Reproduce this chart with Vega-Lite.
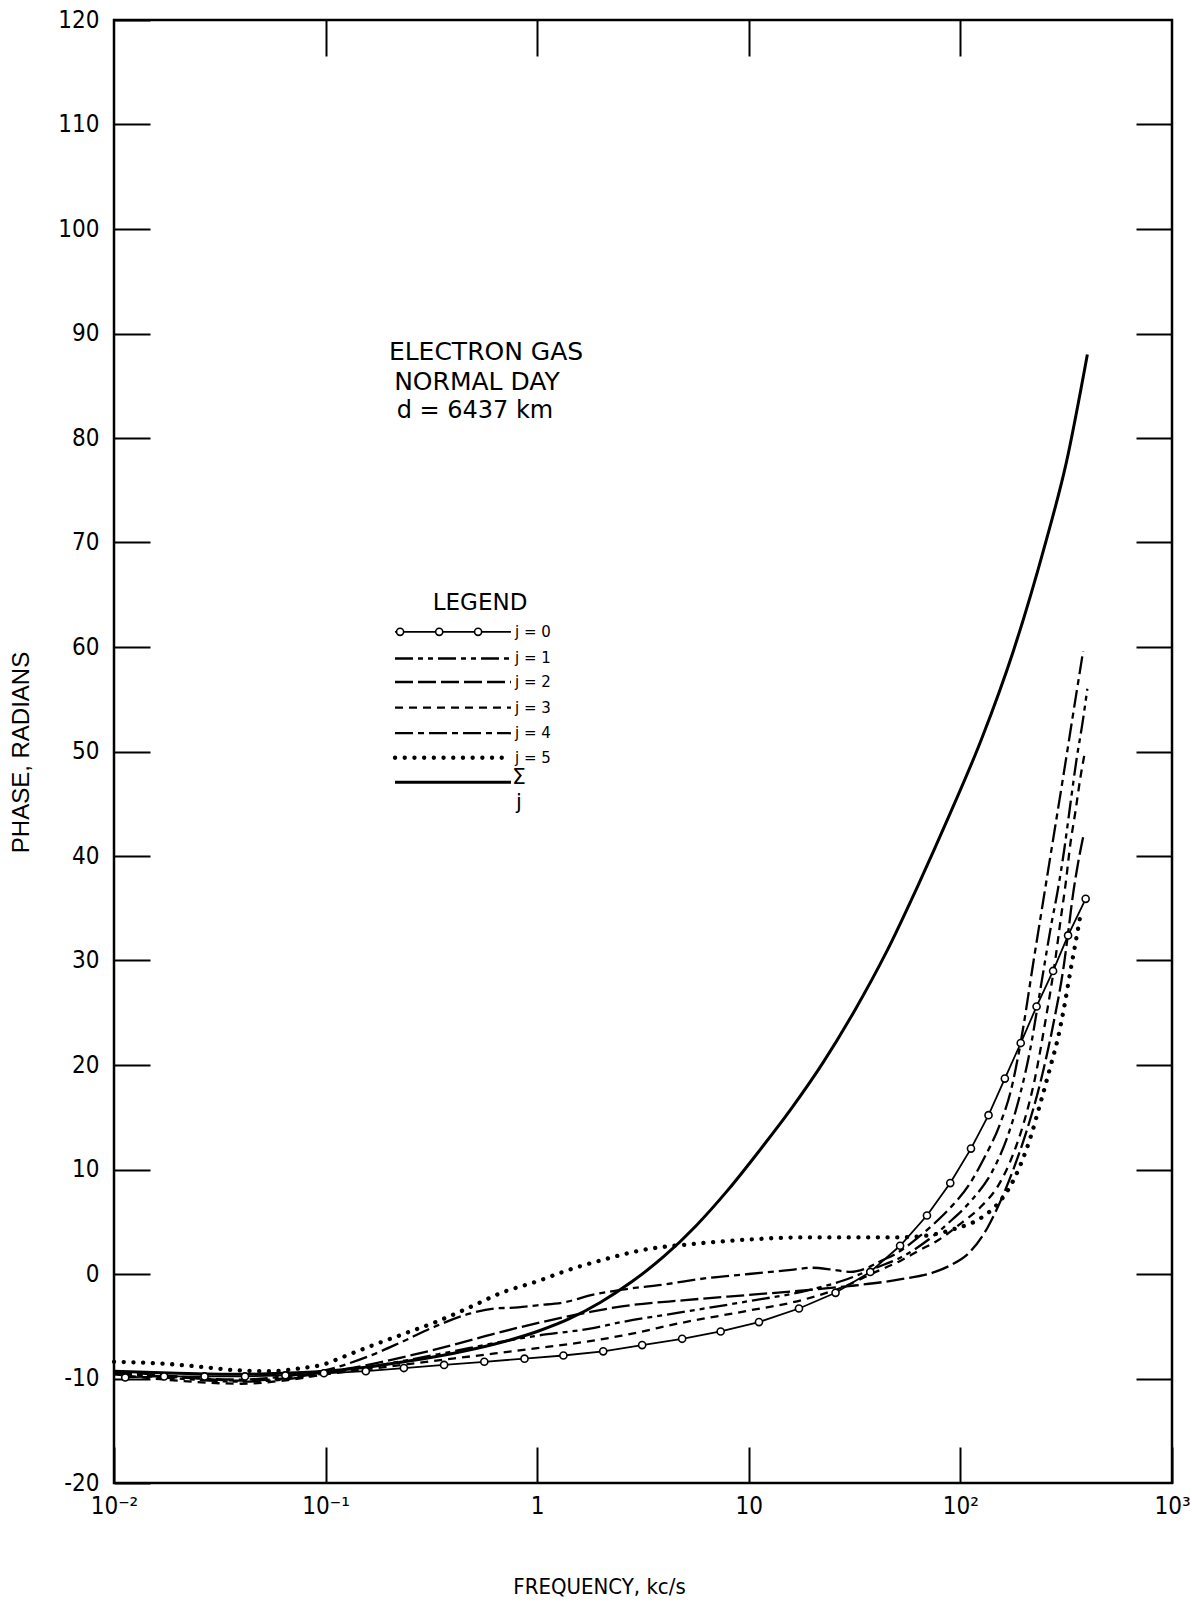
{
  "$schema": "https://vega.github.io/schema/vega-lite/v6.json",
  "width": 1058,
  "height": 1463,
  "autosize": {"type": "none"},
  "padding": {"left": 114, "top": 20, "right": 20, "bottom": 123},
  "background": "white",
  "config": {
    "view": {"stroke": "black", "strokeWidth": 2.5},
    "axis": {"domain": false, "grid": false, "tickColor": "black", "tickWidth": 2, "labelColor": "black", "titleColor": "black", "labelFlush": false, "labelOverlap": false, "titleFontWeight": "normal"}
  },
  "datasets": {
    "curves": [
      {"line": "c0", "series": "j=0", "f": 0.0113, "v": -9.9},
      {"line": "c0", "series": "j=0", "f": 0.01726, "v": -9.8},
      {"line": "c0", "series": "j=0", "f": 0.02679, "v": -9.8},
      {"line": "c0", "series": "j=0", "f": 0.04159, "v": -9.8},
      {"line": "c0", "series": "j=0", "f": 0.06457, "v": -9.7},
      {"line": "c0", "series": "j=0", "f": 0.09817, "v": -9.5},
      {"line": "c0", "series": "j=0", "f": 0.1549, "v": -9.3},
      {"line": "c0", "series": "j=0", "f": 0.2344, "v": -9.0},
      {"line": "c0", "series": "j=0", "f": 0.3631, "v": -8.7},
      {"line": "c0", "series": "j=0", "f": 0.5623, "v": -8.4},
      {"line": "c0", "series": "j=0", "f": 0.871, "v": -8.1},
      {"line": "c0", "series": "j=0", "f": 1.33, "v": -7.8},
      {"line": "c0", "series": "j=0", "f": 2.051, "v": -7.4},
      {"line": "c0", "series": "j=0", "f": 3.133, "v": -6.8},
      {"line": "c0", "series": "j=0", "f": 4.842, "v": -6.2},
      {"line": "c0", "series": "j=0", "f": 7.362, "v": -5.5},
      {"line": "c0", "series": "j=0", "f": 11.17, "v": -4.6},
      {"line": "c0", "series": "j=0", "f": 17.26, "v": -3.3},
      {"line": "c0", "series": "j=0", "f": 25.7, "v": -1.8},
      {"line": "c0", "series": "j=0", "f": 37.5, "v": 0.2},
      {"line": "c0", "series": "j=0", "f": 51.88, "v": 2.7},
      {"line": "c0", "series": "j=0", "f": 69.5, "v": 5.6},
      {"line": "c0", "series": "j=0", "f": 89.54, "v": 8.7},
      {"line": "c0", "series": "j=0", "f": 112.2, "v": 12.0},
      {"line": "c0", "series": "j=0", "f": 135.8, "v": 15.2},
      {"line": "c0", "series": "j=0", "f": 162.2, "v": 18.7},
      {"line": "c0", "series": "j=0", "f": 192.8, "v": 22.1},
      {"line": "c0", "series": "j=0", "f": 229.1, "v": 25.6},
      {"line": "c0", "series": "j=0", "f": 274.2, "v": 29.0},
      {"line": "c0", "series": "j=0", "f": 322.8, "v": 32.4},
      {"line": "c0", "series": "j=0", "f": 390.8, "v": 35.9},

      {"line": "c1", "series": "j=1", "f": 0.01, "v": -9.5},
      {"line": "c1", "series": "j=1", "f": 0.01995, "v": -10.0},
      {"line": "c1", "series": "j=1", "f": 0.03981, "v": -10.3},
      {"line": "c1", "series": "j=1", "f": 0.0631, "v": -10.1},
      {"line": "c1", "series": "j=1", "f": 0.1, "v": -9.5},
      {"line": "c1", "series": "j=1", "f": 0.1585, "v": -8.9},
      {"line": "c1", "series": "j=1", "f": 0.2512, "v": -8.2},
      {"line": "c1", "series": "j=1", "f": 0.3981, "v": -7.4},
      {"line": "c1", "series": "j=1", "f": 0.631, "v": -6.6},
      {"line": "c1", "series": "j=1", "f": 1, "v": -5.9},
      {"line": "c1", "series": "j=1", "f": 1.807, "v": -5.2},
      {"line": "c1", "series": "j=1", "f": 2.512, "v": -4.6},
      {"line": "c1", "series": "j=1", "f": 5.012, "v": -3.6},
      {"line": "c1", "series": "j=1", "f": 10, "v": -2.6},
      {"line": "c1", "series": "j=1", "f": 17.78, "v": -1.7},
      {"line": "c1", "series": "j=1", "f": 28.18, "v": -0.6},
      {"line": "c1", "series": "j=1", "f": 39.81, "v": 0.6},
      {"line": "c1", "series": "j=1", "f": 52.48, "v": 1.6},
      {"line": "c1", "series": "j=1", "f": 70.79, "v": 3.3},
      {"line": "c1", "series": "j=1", "f": 89.13, "v": 5.0},
      {"line": "c1", "series": "j=1", "f": 112.2, "v": 7.0},
      {"line": "c1", "series": "j=1", "f": 141.3, "v": 9.8},
      {"line": "c1", "series": "j=1", "f": 166.0, "v": 13.0},
      {"line": "c1", "series": "j=1", "f": 190.5, "v": 17.0},
      {"line": "c1", "series": "j=1", "f": 213.8, "v": 21.5},
      {"line": "c1", "series": "j=1", "f": 239.9, "v": 27.5},
      {"line": "c1", "series": "j=1", "f": 269.2, "v": 33.5},
      {"line": "c1", "series": "j=1", "f": 288.4, "v": 36.7},
      {"line": "c1", "series": "j=1", "f": 309.0, "v": 40.5},
      {"line": "c1", "series": "j=1", "f": 331.1, "v": 45.0},
      {"line": "c1", "series": "j=1", "f": 354.8, "v": 49.4},
      {"line": "c1", "series": "j=1", "f": 376.7, "v": 52.6},
      {"line": "c1", "series": "j=1", "f": 398.1, "v": 56.0},

      {"line": "c2", "series": "j=2", "f": 0.01, "v": -9.3},
      {"line": "c2", "series": "j=2", "f": 0.01995, "v": -9.8},
      {"line": "c2", "series": "j=2", "f": 0.03981, "v": -10.2},
      {"line": "c2", "series": "j=2", "f": 0.0631, "v": -10.0},
      {"line": "c2", "series": "j=2", "f": 0.1, "v": -9.4},
      {"line": "c2", "series": "j=2", "f": 0.1585, "v": -8.7},
      {"line": "c2", "series": "j=2", "f": 0.2512, "v": -7.8},
      {"line": "c2", "series": "j=2", "f": 0.3981, "v": -6.8},
      {"line": "c2", "series": "j=2", "f": 0.631, "v": -5.7},
      {"line": "c2", "series": "j=2", "f": 1, "v": -4.7},
      {"line": "c2", "series": "j=2", "f": 1.807, "v": -3.6},
      {"line": "c2", "series": "j=2", "f": 2.512, "v": -3.1},
      {"line": "c2", "series": "j=2", "f": 5.012, "v": -2.5},
      {"line": "c2", "series": "j=2", "f": 10, "v": -2.0},
      {"line": "c2", "series": "j=2", "f": 19.95, "v": -1.5},
      {"line": "c2", "series": "j=2", "f": 31.62, "v": -1.1},
      {"line": "c2", "series": "j=2", "f": 52.48, "v": -0.5},
      {"line": "c2", "series": "j=2", "f": 75.86, "v": 0.2},
      {"line": "c2", "series": "j=2", "f": 89.13, "v": 0.8},
      {"line": "c2", "series": "j=2", "f": 109.6, "v": 2.0},
      {"line": "c2", "series": "j=2", "f": 134.9, "v": 4.5},
      {"line": "c2", "series": "j=2", "f": 154.9, "v": 7.0},
      {"line": "c2", "series": "j=2", "f": 177.8, "v": 10.0},
      {"line": "c2", "series": "j=2", "f": 204.2, "v": 13.5},
      {"line": "c2", "series": "j=2", "f": 239.9, "v": 18.5},
      {"line": "c2", "series": "j=2", "f": 275.4, "v": 24.0},
      {"line": "c2", "series": "j=2", "f": 309.0, "v": 29.7},
      {"line": "c2", "series": "j=2", "f": 323.6, "v": 32.8},
      {"line": "c2", "series": "j=2", "f": 338.8, "v": 36.0},
      {"line": "c2", "series": "j=2", "f": 358.9, "v": 39.2},
      {"line": "c2", "series": "j=2", "f": 380.2, "v": 41.8},

      {"line": "c3", "series": "j=3", "f": 0.01, "v": -9.6},
      {"line": "c3", "series": "j=3", "f": 0.01995, "v": -10.2},
      {"line": "c3", "series": "j=3", "f": 0.03981, "v": -10.5},
      {"line": "c3", "series": "j=3", "f": 0.0631, "v": -10.2},
      {"line": "c3", "series": "j=3", "f": 0.1, "v": -9.6},
      {"line": "c3", "series": "j=3", "f": 0.1585, "v": -9.1},
      {"line": "c3", "series": "j=3", "f": 0.2512, "v": -8.6},
      {"line": "c3", "series": "j=3", "f": 0.3981, "v": -8.1},
      {"line": "c3", "series": "j=3", "f": 0.631, "v": -7.6},
      {"line": "c3", "series": "j=3", "f": 1, "v": -7.1},
      {"line": "c3", "series": "j=3", "f": 1.807, "v": -6.4},
      {"line": "c3", "series": "j=3", "f": 2.512, "v": -5.9},
      {"line": "c3", "series": "j=3", "f": 5.012, "v": -4.6},
      {"line": "c3", "series": "j=3", "f": 10, "v": -3.5},
      {"line": "c3", "series": "j=3", "f": 17.78, "v": -2.5},
      {"line": "c3", "series": "j=3", "f": 28.18, "v": -1.2},
      {"line": "c3", "series": "j=3", "f": 39.81, "v": 0.2},
      {"line": "c3", "series": "j=3", "f": 52.48, "v": 1.3},
      {"line": "c3", "series": "j=3", "f": 63.1, "v": 2.2},
      {"line": "c3", "series": "j=3", "f": 79.43, "v": 3.3},
      {"line": "c3", "series": "j=3", "f": 100, "v": 4.8},
      {"line": "c3", "series": "j=3", "f": 125.9, "v": 6.5},
      {"line": "c3", "series": "j=3", "f": 151.4, "v": 8.5},
      {"line": "c3", "series": "j=3", "f": 177.8, "v": 11.5},
      {"line": "c3", "series": "j=3", "f": 199.5, "v": 14.5},
      {"line": "c3", "series": "j=3", "f": 223.9, "v": 18.5},
      {"line": "c3", "series": "j=3", "f": 251.2, "v": 24.0},
      {"line": "c3", "series": "j=3", "f": 281.8, "v": 30.3},
      {"line": "c3", "series": "j=3", "f": 297.2, "v": 33.8},
      {"line": "c3", "series": "j=3", "f": 314.1, "v": 37.3},
      {"line": "c3", "series": "j=3", "f": 331.1, "v": 41.2},
      {"line": "c3", "series": "j=3", "f": 349.9, "v": 44.3},
      {"line": "c3", "series": "j=3", "f": 369.0, "v": 47.5},
      {"line": "c3", "series": "j=3", "f": 387.3, "v": 49.9},

      {"line": "c4", "series": "j=4", "f": 0.01, "v": -9.4},
      {"line": "c4", "series": "j=4", "f": 0.01995, "v": -9.9},
      {"line": "c4", "series": "j=4", "f": 0.03981, "v": -10.1},
      {"line": "c4", "series": "j=4", "f": 0.0631, "v": -9.8},
      {"line": "c4", "series": "j=4", "f": 0.1, "v": -9.2},
      {"line": "c4", "series": "j=4", "f": 0.1585, "v": -7.9},
      {"line": "c4", "series": "j=4", "f": 0.2291, "v": -6.5},
      {"line": "c4", "series": "j=4", "f": 0.3311, "v": -5.0},
      {"line": "c4", "series": "j=4", "f": 0.4786, "v": -3.8},
      {"line": "c4", "series": "j=4", "f": 0.631, "v": -3.3},
      {"line": "c4", "series": "j=4", "f": 0.8128, "v": -3.2},
      {"line": "c4", "series": "j=4", "f": 1, "v": -3.0},
      {"line": "c4", "series": "j=4", "f": 1.349, "v": -2.7},
      {"line": "c4", "series": "j=4", "f": 1.82, "v": -2.0},
      {"line": "c4", "series": "j=4", "f": 2.512, "v": -1.5},
      {"line": "c4", "series": "j=4", "f": 3.981, "v": -1.0},
      {"line": "c4", "series": "j=4", "f": 6.31, "v": -0.4},
      {"line": "c4", "series": "j=4", "f": 10, "v": 0.0},
      {"line": "c4", "series": "j=4", "f": 15.85, "v": 0.4},
      {"line": "c4", "series": "j=4", "f": 19.95, "v": 0.6},
      {"line": "c4", "series": "j=4", "f": 25.12, "v": 0.4},
      {"line": "c4", "series": "j=4", "f": 30.2, "v": 0.2},
      {"line": "c4", "series": "j=4", "f": 35.48, "v": 0.5},
      {"line": "c4", "series": "j=4", "f": 41.69, "v": 1.2},
      {"line": "c4", "series": "j=4", "f": 50.12, "v": 2.0},
      {"line": "c4", "series": "j=4", "f": 63.1, "v": 3.5},
      {"line": "c4", "series": "j=4", "f": 74.99, "v": 4.8},
      {"line": "c4", "series": "j=4", "f": 90.16, "v": 6.4},
      {"line": "c4", "series": "j=4", "f": 109.6, "v": 8.5},
      {"line": "c4", "series": "j=4", "f": 128.8, "v": 11.0},
      {"line": "c4", "series": "j=4", "f": 154.9, "v": 14.5},
      {"line": "c4", "series": "j=4", "f": 173.0, "v": 17.5},
      {"line": "c4", "series": "j=4", "f": 190.5, "v": 21.6},
      {"line": "c4", "series": "j=4", "f": 223.9, "v": 30.5},
      {"line": "c4", "series": "j=4", "f": 263.0, "v": 39.3},
      {"line": "c4", "series": "j=4", "f": 309.0, "v": 48.1},
      {"line": "c4", "series": "j=4", "f": 354.8, "v": 55.8},
      {"line": "c4", "series": "j=4", "f": 380.2, "v": 59.6},

      {"line": "c5", "series": "j=5", "f": 0.01, "v": -8.4},
      {"line": "c5", "series": "j=5", "f": 0.01778, "v": -8.6},
      {"line": "c5", "series": "j=5", "f": 0.0263, "v": -8.9},
      {"line": "c5", "series": "j=5", "f": 0.03715, "v": -9.2},
      {"line": "c5", "series": "j=5", "f": 0.0537, "v": -9.3},
      {"line": "c5", "series": "j=5", "f": 0.0776, "v": -9.0},
      {"line": "c5", "series": "j=5", "f": 0.1, "v": -8.6},
      {"line": "c5", "series": "j=5", "f": 0.1122, "v": -8.2},
      {"line": "c5", "series": "j=5", "f": 0.1585, "v": -7.0},
      {"line": "c5", "series": "j=5", "f": 0.2291, "v": -5.8},
      {"line": "c5", "series": "j=5", "f": 0.3311, "v": -4.6},
      {"line": "c5", "series": "j=5", "f": 0.4786, "v": -3.2},
      {"line": "c5", "series": "j=5", "f": 0.6761, "v": -1.8},
      {"line": "c5", "series": "j=5", "f": 1, "v": -0.7},
      {"line": "c5", "series": "j=5", "f": 1.413, "v": 0.4},
      {"line": "c5", "series": "j=5", "f": 1.995, "v": 1.3},
      {"line": "c5", "series": "j=5", "f": 3.162, "v": 2.3},
      {"line": "c5", "series": "j=5", "f": 5.623, "v": 2.9},
      {"line": "c5", "series": "j=5", "f": 10, "v": 3.3},
      {"line": "c5", "series": "j=5", "f": 17.78, "v": 3.5},
      {"line": "c5", "series": "j=5", "f": 31.62, "v": 3.5},
      {"line": "c5", "series": "j=5", "f": 50.12, "v": 3.5},
      {"line": "c5", "series": "j=5", "f": 70.79, "v": 3.7},
      {"line": "c5", "series": "j=5", "f": 93.33, "v": 4.3},
      {"line": "c5", "series": "j=5", "f": 125.9, "v": 5.4},
      {"line": "c5", "series": "j=5", "f": 151.4, "v": 6.8},
      {"line": "c5", "series": "j=5", "f": 169.8, "v": 8.2},
      {"line": "c5", "series": "j=5", "f": 192.8, "v": 10.5},
      {"line": "c5", "series": "j=5", "f": 213.8, "v": 13.0},
      {"line": "c5", "series": "j=5", "f": 239.9, "v": 16.5},
      {"line": "c5", "series": "j=5", "f": 269.2, "v": 20.2},
      {"line": "c5", "series": "j=5", "f": 288.4, "v": 22.5},
      {"line": "c5", "series": "j=5", "f": 309.0, "v": 25.5},
      {"line": "c5", "series": "j=5", "f": 331.1, "v": 29.0},
      {"line": "c5", "series": "j=5", "f": 350.8, "v": 31.8},
      {"line": "c5", "series": "j=5", "f": 369.0, "v": 34.3},

      {"line": "cS", "series": "sum", "f": 0.01, "v": -9.3},
      {"line": "cS", "series": "sum", "f": 0.01995, "v": -9.5},
      {"line": "cS", "series": "sum", "f": 0.03981, "v": -9.6},
      {"line": "cS", "series": "sum", "f": 0.0631, "v": -9.5},
      {"line": "cS", "series": "sum", "f": 0.1, "v": -9.3},
      {"line": "cS", "series": "sum", "f": 0.1585, "v": -8.9},
      {"line": "cS", "series": "sum", "f": 0.2512, "v": -8.3},
      {"line": "cS", "series": "sum", "f": 0.3981, "v": -7.6},
      {"line": "cS", "series": "sum", "f": 0.631, "v": -6.7},
      {"line": "cS", "series": "sum", "f": 1, "v": -5.5},
      {"line": "cS", "series": "sum", "f": 1.413, "v": -4.3},
      {"line": "cS", "series": "sum", "f": 1.995, "v": -2.7},
      {"line": "cS", "series": "sum", "f": 2.818, "v": -0.7},
      {"line": "cS", "series": "sum", "f": 3.981, "v": 1.7},
      {"line": "cS", "series": "sum", "f": 5.623, "v": 4.6},
      {"line": "cS", "series": "sum", "f": 7.943, "v": 8.0},
      {"line": "cS", "series": "sum", "f": 11.22, "v": 11.8},
      {"line": "cS", "series": "sum", "f": 15.85, "v": 15.8},
      {"line": "cS", "series": "sum", "f": 22.39, "v": 20.2},
      {"line": "cS", "series": "sum", "f": 31.62, "v": 25.2},
      {"line": "cS", "series": "sum", "f": 44.67, "v": 30.8},
      {"line": "cS", "series": "sum", "f": 63.1, "v": 37.2},
      {"line": "cS", "series": "sum", "f": 89.13, "v": 44.0},
      {"line": "cS", "series": "sum", "f": 125.9, "v": 51.2},
      {"line": "cS", "series": "sum", "f": 177.8, "v": 59.6},
      {"line": "cS", "series": "sum", "f": 251.2, "v": 69.8},
      {"line": "cS", "series": "sum", "f": 316.2, "v": 77.6},
      {"line": "cS", "series": "sum", "f": 398.1, "v": 88.0},

      {"line": "L0", "series": "j=0", "f": 0.2128, "v": 61.45},
      {"line": "L0", "series": "j=0", "f": 0.7516, "v": 61.45},
      {"line": "L1", "series": "j=1", "f": 0.2128, "v": 58.9},
      {"line": "L1", "series": "j=1", "f": 0.7516, "v": 58.9},
      {"line": "L2", "series": "j=2", "f": 0.2128, "v": 56.65},
      {"line": "L2", "series": "j=2", "f": 0.7516, "v": 56.65},
      {"line": "L3", "series": "j=3", "f": 0.2128, "v": 54.2},
      {"line": "L3", "series": "j=3", "f": 0.7516, "v": 54.2},
      {"line": "L4", "series": "j=4", "f": 0.2128, "v": 51.75},
      {"line": "L4", "series": "j=4", "f": 0.7516, "v": 51.75},
      {"line": "L5", "series": "j=5", "f": 0.2128, "v": 49.4},
      {"line": "L5", "series": "j=5", "f": 0.7516, "v": 49.4},
      {"line": "LS", "series": "sum", "f": 0.2128, "v": 47.05},
      {"line": "LS", "series": "sum", "f": 0.7516, "v": 47.05}
    ],
    "legendMarkers": [
      {"f": 0.2249, "v": 61.45},
      {"f": 0.3443, "v": 61.45},
      {"f": 0.5257, "v": 61.45}
    ],
    "labels": [
      {"text": "ELECTRON GAS", "f": 0.573, "v": 88.2, "kind": "head"},
      {"text": "NORMAL DAY", "f": 0.519, "v": 85.4, "kind": "head"},
      {"text": "d = 6437 km", "f": 0.508, "v": 82.6, "kind": "subhead"},
      {"text": "LEGEND", "f": 0.537, "v": 64.2, "kind": "legendtitle"},
      {"text": "Σ", "f": 0.82, "v": 47.6, "kind": "sigma"},
      {"text": "j", "f": 0.82, "v": 45.1, "kind": "sigmaindex"},
      {"text": "j = 0", "f": 0.785, "v": 61.45, "kind": "legendlabel"},
      {"text": "j = 1", "f": 0.785, "v": 58.9, "kind": "legendlabel"},
      {"text": "j = 2", "f": 0.785, "v": 56.65, "kind": "legendlabel"},
      {"text": "j = 3", "f": 0.785, "v": 54.2, "kind": "legendlabel"},
      {"text": "j = 4", "f": 0.785, "v": 51.75, "kind": "legendlabel"},
      {"text": "j = 5", "f": 0.785, "v": 49.4, "kind": "legendlabel"}
    ]
  },
  "layer": [
    {
      "data": {"name": "curves"},
      "transform": [{"filter": "indexof(['j=1','j=2','j=3','j=4'], datum.series) >= 0"}],
      "mark": {"type": "line", "interpolate": "monotone", "color": "black", "strokeWidth": 2.3, "strokeCap": "butt"},
      "encoding": {
        "x": {
          "field": "f", "type": "quantitative",
          "scale": {"type": "log", "domain": [0.01, 1000], "nice": false},
          "axis": {
            "orient": "bottom",
            "values": [0.01, 0.1, 1, 10, 100, 1000],
            "tickSize": -36,
            "labelPadding": 47,
            "labelFont": "Liberation Sans Narrow, DejaVu Sans Condensed, sans-serif",
            "labelFontSize": 24,
            "labelExpr": "datum.value < 0.05 ? '10⁻²' : datum.value < 0.5 ? '10⁻¹' : datum.value < 5 ? '1' : datum.value < 50 ? '10' : datum.value < 500 ? '10²' : '10³'",
            "title": "FREQUENCY, kc/s",
            "titleFont": "Liberation Sans Narrow, DejaVu Sans Condensed, sans-serif",
            "titleFontSize": 22,
            "titleX": 485,
            "titleY": 103,
            "titleAlign": "center",
            "titleBaseline": "middle"
          }
        },
        "y": {
          "field": "v", "type": "quantitative",
          "scale": {"domain": [-20, 120], "nice": false, "zero": false},
          "axis": {
            "orient": "left",
            "values": [-20, -10, 0, 10, 20, 30, 40, 50, 60, 70, 80, 90, 100, 110, 120],
            "tickSize": -36,
            "labelPadding": 51,
            "labelFont": "Liberation Sans Narrow, DejaVu Sans Condensed, sans-serif",
            "labelFontSize": 24,
            "labelBaseline": "middle",
            "labelExpr": "datum.value < 0 ? '-' + abs(datum.value) : '' + datum.value",
            "title": "PHASE, RADIANS",
            "titleFont": "Liberation Sans, DejaVu Sans, sans-serif",
            "titleFontSize": 24,
            "titleAngle": -90,
            "titleX": -93,
            "titleY": 732,
            "titleAlign": "center",
            "titleBaseline": "middle"
          }
        },
        "detail": {"field": "line"},
        "strokeDash": {
          "field": "series", "type": "nominal",
          "scale": {"domain": ["j=1", "j=2", "j=3", "j=4"], "range": [[18, 5, 5, 5, 5, 5], [18, 5], [8, 6], [18, 5, 6, 5]]},
          "legend": null
        }
      }
    },
    {
      "data": {"name": "curves"},
      "transform": [{"filter": "datum.series == 'j=5'"}],
      "mark": {"type": "line", "interpolate": "monotone", "color": "black", "strokeWidth": 4.3, "strokeCap": "round", "strokeDash": [0.1, 9.6]},
      "encoding": {
        "x": {
          "field": "f", "type": "quantitative",
          "scale": {"type": "log", "domain": [0.01, 1000], "nice": false},
          "axis": {"orient": "top", "values": [0.1, 1, 10, 100], "tickSize": -36, "labels": false, "title": null}
        },
        "y": {
          "field": "v", "type": "quantitative",
          "scale": {"domain": [-20, 120], "nice": false, "zero": false},
          "axis": {"orient": "right", "values": [-10, 0, 10, 20, 30, 40, 50, 60, 70, 80, 90, 100, 110], "tickSize": -36, "labels": false, "title": null}
        },
        "detail": {"field": "line"}
      }
    },
    {
      "data": {"name": "curves"},
      "transform": [{"filter": "datum.series == 'sum'"}],
      "mark": {"type": "line", "interpolate": "monotone", "color": "black", "strokeWidth": 3},
      "encoding": {
        "x": {"field": "f", "type": "quantitative", "scale": {"type": "log", "domain": [0.01, 1000], "nice": false}, "axis": null},
        "y": {"field": "v", "type": "quantitative", "scale": {"domain": [-20, 120], "nice": false, "zero": false}, "axis": null},
        "detail": {"field": "line"}
      }
    },
    {
      "data": {"name": "curves"},
      "transform": [{"filter": "datum.series == 'j=0'"}],
      "mark": {"type": "line", "color": "black", "strokeWidth": 1.8},
      "encoding": {
        "x": {"field": "f", "type": "quantitative", "scale": {"type": "log", "domain": [0.01, 1000], "nice": false}, "axis": null},
        "y": {"field": "v", "type": "quantitative", "scale": {"domain": [-20, 120], "nice": false, "zero": false}, "axis": null},
        "detail": {"field": "line"}
      }
    },
    {
      "data": {"name": "curves"},
      "transform": [{"filter": "datum.line == 'c0'"}],
      "mark": {"type": "point", "shape": "circle", "size": 50, "fill": "white", "stroke": "black", "strokeWidth": 1.6, "opacity": 1},
      "encoding": {
        "x": {"field": "f", "type": "quantitative", "scale": {"type": "log", "domain": [0.01, 1000], "nice": false}, "axis": null},
        "y": {"field": "v", "type": "quantitative", "scale": {"domain": [-20, 120], "nice": false, "zero": false}, "axis": null}
      }
    },
    {
      "data": {"name": "legendMarkers"},
      "mark": {"type": "point", "shape": "circle", "size": 50, "fill": "white", "stroke": "black", "strokeWidth": 1.6, "opacity": 1},
      "encoding": {
        "x": {"field": "f", "type": "quantitative", "scale": {"type": "log", "domain": [0.01, 1000], "nice": false}, "axis": null},
        "y": {"field": "v", "type": "quantitative", "scale": {"domain": [-20, 120], "nice": false, "zero": false}, "axis": null}
      }
    },
    {
      "data": {"name": "labels"},
      "transform": [{"filter": "datum.kind != 'legendlabel'"}],
      "mark": {"type": "text", "font": "DejaVu Sans", "align": "center", "baseline": "middle", "color": "black"},
      "encoding": {
        "x": {"field": "f", "type": "quantitative", "scale": {"type": "log", "domain": [0.01, 1000], "nice": false}, "axis": null},
        "y": {"field": "v", "type": "quantitative", "scale": {"domain": [-20, 120], "nice": false, "zero": false}, "axis": null},
        "text": {"field": "text"},
        "size": {"field": "kind", "type": "nominal", "scale": {"domain": ["head", "subhead", "legendtitle", "sigma", "sigmaindex"], "range": [25, 21, 21, 15, 12]}, "legend": null}
      }
    },
    {
      "data": {"name": "labels"},
      "transform": [{"filter": "datum.kind == 'legendlabel'"}],
      "mark": {"type": "text", "font": "DejaVu Sans", "fontSize": 15, "align": "left", "baseline": "middle", "color": "black"},
      "encoding": {
        "x": {"field": "f", "type": "quantitative", "scale": {"type": "log", "domain": [0.01, 1000], "nice": false}, "axis": null},
        "y": {"field": "v", "type": "quantitative", "scale": {"domain": [-20, 120], "nice": false, "zero": false}, "axis": null},
        "text": {"field": "text"}
      }
    }
  ],
  "resolve": {"axis": {"x": "independent", "y": "independent"}}
}
